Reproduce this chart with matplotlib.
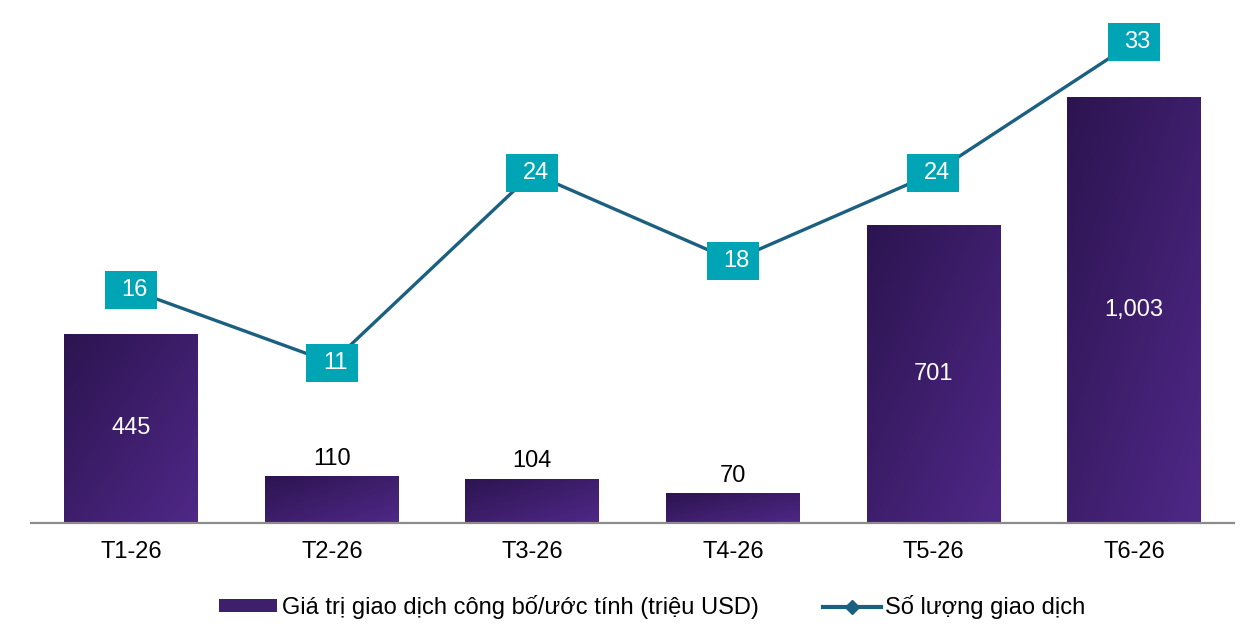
import numpy as np
import matplotlib
matplotlib.use('Agg')
import matplotlib.pyplot as plt
from matplotlib.colors import LinearSegmentedColormap
from matplotlib.path import Path
from matplotlib.patches import Patch
from matplotlib.lines import Line2D

plt.rcParams['font.family'] = ['Liberation Sans', 'DejaVu Sans']

# Dữ liệu
thang = ['T1-26', 'T2-26', 'T3-26', 'T4-26', 'T5-26', 'T6-26']
gia_tri = [445, 110, 104, 70, 701, 1003]
so_luong = [16, 11, 24, 18, 24, 33]
nhan_gia_tri = ['445', '110', '104', '70', '701', '1,003']

ten_cot = 'Giá trị giao dịch công bố/ước tính (triệu USD)'
ten_duong = 'Số lượng giao dịch'

mau_toi = '#2c1450'
mau_sang = '#4f2887'
mau_duong = '#1b6080'
mau_hop = '#00a5b5'
co_chu = 17

cmap = LinearSegmentedColormap.from_list('tim', [mau_toi, mau_sang])

fig = plt.figure(figsize=(12.56, 6.44), dpi=100)
ax = fig.add_axes([0.0247, 0.1879, 0.958, 0.792])
x = np.arange(len(thang))

bars = ax.bar(x, gia_tri, width=0.667, color='none', edgecolor='none')
u, v = np.meshgrid(np.linspace(0, 1, 64), np.linspace(0, 1, 64))
grad = 0.5 * u + 0.5 * v  # trên-trái tối, dưới-phải sáng (origin upper)
for b in bars:
    x0, w, h = b.get_x(), b.get_width(), b.get_height()
    im = ax.imshow(grad, cmap=cmap, extent=[x0, x0 + w, 0, h], origin='upper',
                   aspect='auto', zorder=2)
    im.set_clip_path(b)

for xi, val, lab in zip(x, gia_tri, nhan_gia_tri):
    if val > 300:
        ax.text(xi, val / 2, lab, ha='center', va='center', color='white', fontsize=co_chu, zorder=3)
    else:
        ax.annotate(lab, (xi, val), xytext=(0, 12.5), textcoords='offset points',
                    ha='center', va='center', color='black', fontsize=co_chu, zorder=3)

ax.set_xlim(-0.5, len(thang) - 0.5)
ax.set_ylim(0, 1200)
ax.set_yticks([])
ax.set_xticks(x)
ax.set_xticklabels(thang, fontsize=co_chu)
ax.tick_params(axis='x', length=0, pad=13)
for s in ['top', 'left', 'right']:
    ax.spines[s].set_visible(False)
ax.spines['bottom'].set_color('#8c8c8c')
ax.spines['bottom'].set_linewidth(1.6)
ax.spines['bottom'].set_zorder(4)

ax2 = ax.twinx()
ax2.set_ylim(0, 35)
ax2.set_yticks([])
for s in ax2.spines.values():
    s.set_visible(False)
ax2.plot(x, so_luong, color=mau_duong, linewidth=2.4, marker='D', markersize=7, zorder=2)

# hộp nhãn chữ nhật
hop = Path([(-51, -37), (51, -37), (51, 37), (-51, 37), (-51, -37)],
           [Path.MOVETO, Path.LINETO, Path.LINETO, Path.LINETO, Path.CLOSEPOLY])
ax2.plot(x, so_luong, linestyle='none', marker=hop, markersize=37, color=mau_hop,
         markeredgewidth=0, zorder=3)
for xi, val in zip(x, so_luong):
    ax2.annotate(str(val), (xi, val), xytext=(2.5, 0), textcoords='offset points',
                 ha='center', va='center', color='white', fontsize=co_chu, zorder=4)

handles = [Patch(facecolor='#3d1f6c', edgecolor='none', label=ten_cot),
           Line2D([0], [0], color=mau_duong, linewidth=3, marker='D', markersize=7, label=ten_duong)]
fig.legend(handles=handles, loc='center', bbox_to_anchor=(0.5195, 0.0575), ncol=2,
           frameon=False, fontsize=co_chu, handlelength=2.46, handleheight=0.45,
           handletextpad=0.2, columnspacing=2.7)

fig.savefig('out.png', dpi=100)
